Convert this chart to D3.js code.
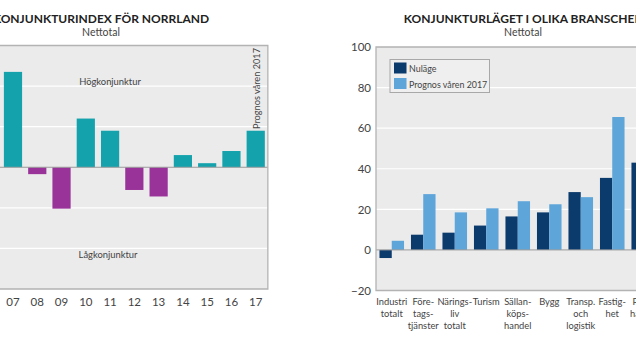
<!DOCTYPE html>
<html><head><meta charset="utf-8">
<script src="https://cdn.jsdelivr.net/npm/d3@7"></script>
<style>body{margin:0;background:#fff}svg{display:block}text{font-family:Lato,"Open Sans",sans-serif}</style>
</head><body>
<svg id="c" width="636" height="357"></svg>
<script>
// Left panel data
const years = ["07","08","09","10","11","12","13","14","15","16","17"];
const indexValues = [23.5,-1.7,-10.2,12,9,-5.6,-7.2,3,1,4,9];
const leftTicks = [-30,-20,-10,0,10,20,30];

// Right panel data
const branches = [["Industri","totalt"],["Före-","tags-","tjänster"],["Närings-","liv","totalt"],["Turism"],["Sällan-","köps-","handel"],["Bygg"],["Transp.","och","logistik"],["Fastig-","het"],["Parti-","handel"]];
const nulage = [-4,7.5,8.5,12,16.5,18.5,28.5,35.5,43];
const prognos = [4.5,27.5,18.5,20.5,24,22.5,26,65.5,70];
const rightTicks = [-20,0,20,40,60,80,100];
const seriesNames = ["Nuläge","Prognos våren 2017"];

const svg = d3.select("#c");
const bg = "#ebebeb", border = "#b3b3b3", txt = "#444";

// ---------- Left panel ----------
const lx = d3.scaleBand().domain(years).range([0.85, 267.85]).paddingInner(0.25).paddingOuter(0.125);
const ly = d3.scaleLinear().domain([-30,30]).range([289,45.5]);
const L = svg.append("g");
L.append("rect").attr("x",-5).attr("y",ly(30)).attr("width",267.85+5).attr("height",ly(-30)-ly(30)).attr("fill",bg);
L.selectAll("line.g").data(leftTicks.filter(d=>d!==0 && Math.abs(d)<30)).join("line")
 .attr("x1",0).attr("x2",267.85).attr("y1",d=>ly(d)).attr("y2",d=>ly(d)).attr("stroke","#fff").attr("stroke-width",1.2);
L.selectAll("rect.b").data(years).join("rect")
 .attr("x",d=>lx(d)).attr("width",lx.bandwidth())
 .attr("y",(d,i)=>ly(Math.max(0,indexValues[i])))
 .attr("height",(d,i)=>Math.abs(ly(indexValues[i])-ly(0)))
 .attr("fill",(d,i)=>indexValues[i]>=0?"#14a2ad":"#993399");
L.append("line").attr("x1",0).attr("x2",267.85).attr("y1",ly(0)).attr("y2",ly(0)).attr("stroke","#9a9a9a").attr("stroke-width",1);
L.append("path").attr("d",`M-5,${ly(30)}H267.85V${ly(-30)}H-5`).attr("fill","none").attr("stroke",border).attr("stroke-width",1.3);
const lax = L.append("g").attr("transform",`translate(0,${ly(-30)})`).call(d3.axisBottom(lx).tickSize(0).tickPadding(9));
lax.select(".domain").remove();
lax.selectAll("text").attr("font-size",11.5).attr("fill",txt).attr("font-family","Lato,sans-serif");
L.append("text").attr("x",110).attr("y",85).attr("text-anchor","middle").attr("font-size",9.4).attr("fill",txt).text("Högkonjunktur");
L.append("text").attr("x",108).attr("y",258).attr("text-anchor","middle").attr("font-size",9.4).attr("fill",txt).text("Lågkonjunktur");
L.append("text").attr("transform",`translate(${lx("17")+lx.bandwidth()/2+4},88.5) rotate(-90)`).attr("text-anchor","middle").attr("font-size",9.2).attr("fill",txt).text("Prognos våren 2017");
svg.append("text").attr("x",101).attr("y",23).attr("text-anchor","middle").attr("font-size",12).attr("font-weight","bold").attr("fill","#222").text("KONJUNKTURINDEX FÖR NORRLAND");
svg.append("text").attr("x",101).attr("y",35.5).attr("text-anchor","middle").attr("font-size",10.5).attr("fill",txt).text("Nettotal");

// ---------- Right panel ----------
const rx = d3.scaleBand().domain(d3.range(branches.length)).range([376, 659.5]).paddingInner(0.22).paddingOuter(0.11);
const rs = d3.scaleBand().domain([0,1]).range([0, rx.bandwidth()]);
const ry = d3.scaleLinear().domain([-20,100]).range([290.5,47]);
const R = svg.append("g");
R.append("rect").attr("x",376).attr("y",ry(100)).attr("width",300).attr("height",ry(-20)-ry(100)).attr("fill",bg);
R.selectAll("line.g").data(rightTicks.filter(d=>d!==0 && d>-20 && d<100)).join("line")
 .attr("x1",376).attr("x2",700).attr("y1",d=>ry(d)).attr("y2",d=>ry(d)).attr("stroke","#fff").attr("stroke-width",1.2);
const colors = ["#0b3a6c","#5ea5da"];
[nulage, prognos].forEach((vals, s) => {
  R.selectAll("rect.s"+s).data(vals).join("rect")
   .attr("x",(d,i)=>rx(i)+rs(s)).attr("width",rs.bandwidth())
   .attr("y",d=>ry(Math.max(0,d))).attr("height",d=>Math.abs(ry(d)-ry(0)))
   .attr("fill",colors[s]);
});
R.append("line").attr("x1",376).attr("x2",700).attr("y1",ry(0)).attr("y2",ry(0)).attr("stroke","#9a9a9a").attr("stroke-width",1);
R.append("path").attr("d",`M700,${ry(100)}H376V${ry(-20)}H700`).attr("fill","none").attr("stroke",border).attr("stroke-width",1.3);
const ray = R.append("g").attr("transform","translate(376,0)").call(d3.axisLeft(ry).tickValues(rightTicks).tickSize(0).tickPadding(5));
ray.select(".domain").remove();
ray.selectAll("text").attr("font-size",11.5).attr("fill",txt).attr("font-family","Lato,sans-serif");
const cl = R.selectAll("text.cat").data(branches).join("text")
 .attr("x",(d,i)=>rx(i)+rx.bandwidth()/2).attr("y",305).attr("text-anchor","middle").attr("font-size",9.3).attr("fill",txt);
cl.selectAll("tspan").data(d=>d).join("tspan").attr("x",function(){return this.parentNode.getAttribute("x");}).attr("dy",(d,i)=>i===0?0:12.2).text(d=>d);
// legend
const lg = R.append("g").attr("transform","translate(390,59.5)");
lg.append("rect").attr("width",99.5).attr("height",33).attr("fill","#efefef").attr("stroke","#a8a8a8").attr("stroke-width",1);
seriesNames.forEach((n,i)=>{
  lg.append("rect").attr("x",4).attr("y",3+i*15.5).attr("width",12.5).attr("height",11).attr("fill",colors[i]);
  lg.append("text").attr("x",19).attr("y",12.5+i*15.5).attr("font-size",8.9).attr("fill",txt).text(n);
});
svg.append("text").attr("x",523).attr("y",23).attr("text-anchor","middle").attr("font-size",12).attr("font-weight","bold").attr("fill","#222").text("KONJUNKTURLÄGET I OLIKA BRANSCHER");
svg.append("text").attr("x",523).attr("y",35.5).attr("text-anchor","middle").attr("font-size",10.5).attr("fill",txt).text("Nettotal");
</script>
</body></html>
